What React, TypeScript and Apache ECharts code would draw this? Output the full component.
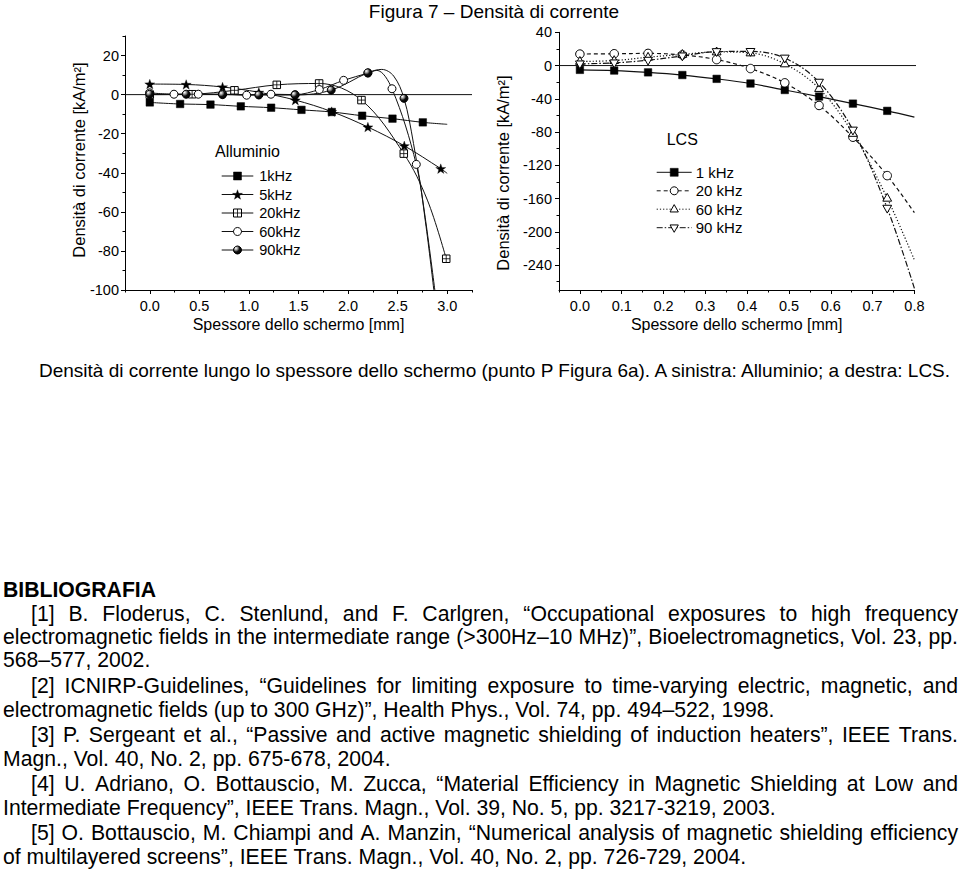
import React, { useEffect, useRef } from 'react';
import * as echarts from 'echarts';

const FONT = '"Liberation Sans", Arial, Helvetica, sans-serif';

// ---------- Left chart: Alluminio ----------
const alXTicks = [0, 0.5, 1, 1.5, 2, 2.5, 3];
const alXMinorTicks = [-0.25, 0.25, 0.75, 1.25, 1.75, 2.25, 2.75, 3.25];
const alYTicks = [-100, -80, -60, -40, -20, 0, 20];
const alYMinorTicks = [-90, -70, -50, -30, -10, 10, 30];

const al1kHz = [[0, -4.0], [0.306, -4.8], [0.612, -5.1], [0.918, -6.0], [1.224, -6.7], [1.53, -7.8], [1.836, -8.9], [2.142, -10.8], [2.448, -12.3], [2.754, -14.2]];
const al1kHzCurveExtra = [[3.0, -15.2]];
const al5kHz = [[0, 5.4], [0.367, 5.2], [0.734, 3.9], [1.1, 1.2], [1.468, -2.8], [1.835, -8.7], [2.2, -16.6], [2.567, -26.2], [2.935, -37.9]];
const al5kHzCurveExtra = [[3.0, -40.3]];
const al20kHz = [[0, 0], [0.427, 0.2], [0.854, 2.2], [1.281, 5.0], [1.708, 5.7], [2.135, -2.8], [2.562, -30.2], [2.99, -84]];
const al20kHzCurveExtra = [[2.8, -54]];
const al60kHz = [[0, 0.9], [0.244, 0.2], [0.489, 0.2], [0.733, 0.3], [0.977, -0.3], [1.222, 0.2], [1.466, 0], [1.71, 2.6], [1.955, 7.3], [2.2, 11], [2.443, 3], [2.688, -35.7]];
const al60kHzCurveExtra = [[2.29, 12.4], [2.78, -65], [2.865, -100]];
const al90kHz = [[0, 0.2], [0.367, 0.2], [0.734, 0], [1.1, -0.2], [1.465, -0.2], [1.83, 2.3], [2.2, 11.2], [2.564, -1.9]];
const al90kHzCurveExtra = [[2.34, 12.9], [2.46, 9.5], [2.66, -25], [2.77, -60], [2.875, -100]];
const alZeroLine = [[-0.25, 0], [3.25, 0]];

// ---------- Right chart: LCS ----------
const lcsXTicks = [0, 0.1, 0.2, 0.3, 0.4, 0.5, 0.6, 0.7, 0.8];
const lcsXMinorTicks = [-0.05, 0.05, 0.15, 0.25, 0.35, 0.45, 0.55, 0.65, 0.75];
const lcsYTicks = [-240, -200, -160, -120, -80, -40, 0, 40];
const lcsYMinorTicks = [-260, -220, -180, -140, -100, -60, -20, 20];

const lcs1kHz = [[0, -5.2], [0.082, -6], [0.163, -8.2], [0.245, -11.4], [0.327, -16], [0.408, -21.6], [0.49, -29.4], [0.572, -37.3], [0.653, -45.8], [0.735, -54.5]];
const lcs1kHzCurveExtra = [[0.8, -62]];
const lcs20kHz = [[0, 13.8], [0.082, 14.2], [0.163, 14.6], [0.245, 12.8], [0.327, 7.2], [0.408, -3.6], [0.49, -20.8], [0.572, -48], [0.653, -86.2], [0.735, -132.4]];
const lcs20kHzCurveExtra = [[0.8, -177]];
const lcs60kHz = [[0, 5], [0.082, 6], [0.163, 10], [0.245, 13.4], [0.327, 16.4], [0.408, 15.2], [0.49, 2], [0.572, -27.6], [0.653, -81.6], [0.735, -159.6]];
const lcs60kHzCurveExtra = [[0.8, -234]];
const lcs90kHz = [[0, 2], [0.082, 3.2], [0.163, 6.4], [0.245, 11.6], [0.327, 16.8], [0.408, 17], [0.49, 9], [0.572, -20], [0.653, -77.6], [0.735, -171.6]];
const lcs90kHzCurveExtra = [[0.8, -268]];
const lcsZeroLine = [[-0.05, 0], [0.915, 0]];

// ---------- Texts ----------
const titleText = 'Figura 7 – Densità di corrente';
const captionText = 'Densità di corrente lungo lo spessore dello schermo (punto P Figura 6a). A sinistra: Alluminio; a destra: LCS.';
const yName = 'Densità di corrente [kA/m²]';
const xName = 'Spessore dello schermo [mm]';
const alLegendTitle = 'Alluminio';
const alLegendLabels = ['1kHz', '5kHz', '20kHz', '60kHz', '90kHz'];
const lcsLegendTitle = 'LCS';
const lcsLegendLabels = ['1 kHz', '20 kHz', '60 kHz', '90 kHz'];
const bibLines = [
  'BIBLIOGRAFIA',
  '[1] B. Floderus, C. Stenlund, and F. Carlgren, “Occupational exposures to high frequency',
  'electromagnetic fields in the intermediate range (>300Hz–10 MHz)”, Bioelectromagnetics, Vol. 23, pp.',
  '568–577, 2002.',
  '[2] ICNIRP-Guidelines, “Guidelines for limiting exposure to time-varying electric, magnetic, and',
  'electromagnetic fields (up to 300 GHz)”, Health Phys., Vol. 74, pp. 494–522, 1998.',
  '[3] P. Sergeant et al., “Passive and active magnetic shielding of induction heaters”, IEEE Trans.',
  'Magn., Vol. 40, No. 2, pp. 675-678, 2004.',
  '[4] U. Adriano, O. Bottauscio, M. Zucca, “Material Efficiency in Magnetic Shielding at Low and',
  'Intermediate Frequency”, IEEE Trans. Magn., Vol. 39, No. 5, pp. 3217-3219, 2003.',
  '[5] O. Bottauscio, M. Chiampi and A. Manzin, “Numerical analysis of magnetic shielding efficiency',
  'of multilayered screens”, IEEE Trans. Magn., Vol. 40, No. 2, pp. 726-729, 2004.',
];
// layout for bibliography lines (y centre, indent, justified, bold)
const bibLayout = [
  { y: 589, indent: 3, justify: false, bold: true },
  { y: 613, indent: 31, justify: true },
  { y: 636.5, indent: 3, justify: true },
  { y: 659, indent: 3, justify: false },
  { y: 685, indent: 31, justify: true },
  { y: 709.5, indent: 3, justify: false },
  { y: 734, indent: 31, justify: true },
  { y: 758.5, indent: 3, justify: false },
  { y: 783, indent: 31, justify: true },
  { y: 807.5, indent: 3, justify: false },
  { y: 832, indent: 31, justify: true },
  { y: 856.5, indent: 3, justify: false },
];

const merge = (a: number[][], b: number[][]) => [...a, ...b].sort((p, q) => p[0] - q[0]);

function markerShapes(kind: string, cx: number, cy: number, s: number): any[] {
  const r = s / 2;
  const stroke = '#000';
  switch (kind) {
    case 'square':
      return [{ type: 'rect', shape: { x: cx - r, y: cy - r, width: s, height: s }, style: { fill: '#000', stroke: '#000', lineWidth: 0.5 } }];
    case 'star': {
      const pts: number[][] = [];
      for (let i = 0; i < 10; i++) {
        const ang = -Math.PI / 2 + (i * Math.PI) / 5;
        const rad = i % 2 === 0 ? r * 1.25 : r * 0.5;
        pts.push([cx + rad * Math.cos(ang), cy + 0.5 + rad * Math.sin(ang)]);
      }
      return [{ type: 'polygon', shape: { points: pts }, style: { fill: '#000', stroke: '#000', lineWidth: 0.3 } }];
    }
    case 'boxplus':
      return [
        { type: 'rect', shape: { x: cx - r, y: cy - r, width: s, height: s }, style: { fill: '#fff', stroke, lineWidth: 1 } },
        { type: 'line', shape: { x1: cx - r, y1: cy, x2: cx + r, y2: cy }, style: { stroke, lineWidth: 0.8 } },
        { type: 'line', shape: { x1: cx, y1: cy - r, x2: cx, y2: cy + r }, style: { stroke, lineWidth: 0.8 } },
      ];
    case 'circle':
      return [{ type: 'circle', shape: { cx, cy, r }, style: { fill: '#fff', stroke, lineWidth: 1 } }];
    case 'sphere':
      return [
        {
          type: 'circle',
          shape: { cx, cy, r },
          style: {
            fill: new echarts.graphic.RadialGradient(0.3, 0.28, 0.75, [
              { offset: 0, color: '#ffffff' },
              { offset: 0.3, color: '#999' },
              { offset: 0.6, color: '#111' },
              { offset: 1, color: '#000' },
            ]),
            stroke,
            lineWidth: 1,
          },
        },
      ];
    case 'triUp': {
      const R = r * 1.15;
      return [{ type: 'polygon', shape: { points: [[cx, cy - R], [cx + R * 0.9, cy + R * 0.6], [cx - R * 0.9, cy + R * 0.6]] }, style: { fill: '#fff', stroke, lineWidth: 1 } }];
    }
    case 'triDown': {
      const R = r * 1.15;
      return [{ type: 'polygon', shape: { points: [[cx, cy + R], [cx + R * 0.9, cy - R * 0.6], [cx - R * 0.9, cy - R * 0.6]] }, style: { fill: '#fff', stroke, lineWidth: 1 } }];
    }
  }
  return [];
}

function markerSeries(data: number[][], kind: string, size: number, axis: number) {
  return {
    type: 'custom',
    xAxisIndex: axis,
    yAxisIndex: axis,
    silent: true,
    z: 5,
    data,
    renderItem: (_p: any, api: any) => {
      const pt = api.coord([api.value(0), api.value(1)]);
      return { type: 'group', children: markerShapes(kind, pt[0], pt[1], size) };
    },
  };
}

function curveSeries(data: number[][], axis: number, dash: any, width = 1, smooth: number = 0.35) {
  return {
    type: 'line',
    xAxisIndex: axis,
    yAxisIndex: axis,
    data,
    smooth,
    symbol: 'none',
    silent: true,
    z: 2,
    lineStyle: { color: '#111', width, type: dash },
  };
}

function mainX(gridIndex: number, min: number, max: number, ticks: number[], nameGap: number) {
  return {
    type: 'value', gridIndex, min, max, position: 'bottom',
    axisLine: { show: true, onZero: false, lineStyle: { color: '#000', width: 1 } },
    axisTick: { show: true, length: 4, customValues: ticks, lineStyle: { color: '#000', width: 1 } },
    axisLabel: { customValues: ticks, formatter: (v: number) => v.toFixed(1), margin: 8, fontSize: 14.5, color: '#000', fontFamily: FONT },
    splitLine: { show: false },
    name: xName, nameLocation: 'middle', nameGap,
    nameTextStyle: { fontSize: 16, color: '#000', fontFamily: FONT },
  };
}
function minorX(gridIndex: number, min: number, max: number, ticks: number[]) {
  return {
    type: 'value', gridIndex, min, max, position: 'bottom',
    axisLine: { show: false, onZero: false },
    axisTick: { show: true, length: 2.5, customValues: ticks, lineStyle: { color: '#000', width: 1 } },
    axisLabel: { show: false }, splitLine: { show: false },
  };
}
function mainY(gridIndex: number, min: number, max: number, ticks: number[], margin: number) {
  return {
    type: 'value', gridIndex, min, max, position: 'left',
    axisLine: { show: true, onZero: false, lineStyle: { color: '#000', width: 1 } },
    axisTick: { show: true, length: 4, customValues: ticks, lineStyle: { color: '#000', width: 1 } },
    axisLabel: { customValues: ticks, margin, fontSize: 14.5, color: '#000', fontFamily: FONT },
    splitLine: { show: false },
  };
}
function minorY(gridIndex: number, min: number, max: number, ticks: number[]) {
  return {
    type: 'value', gridIndex, min, max, position: 'left',
    axisLine: { show: false, onZero: false },
    axisTick: { show: true, length: 2.5, customValues: ticks, lineStyle: { color: '#000', width: 1 } },
    axisLabel: { show: false }, splitLine: { show: false },
  };
}

function textEl(text: string, x: number, y: number, size: number, align = 'left', bold = false, rotation = 0) {
  return {
    type: 'text', x, y, rotation, silent: true,
    style: {
      text, fill: '#000', fontSize: size, fontFamily: FONT, fontWeight: bold ? 'bold' : 'normal',
      textAlign: align, textVerticalAlign: 'middle', verticalAlign: 'middle',
    },
  };
}

function legendRow(kind: string, dash: any, x1: number, x2: number, y: number, tx: number, label: string, size: number, fs: number) {
  const cx = (x1 + x2) / 2;
  return [
    { type: 'line', silent: true, shape: { x1, y1: y, x2, y2: y }, style: { stroke: '#111', lineWidth: 1, lineDash: dash } },
    ...markerShapes(kind, cx, y, size).map((e) => ({ ...e, silent: true })),
    textEl(label, tx, y, fs),
  ];
}

export default function App() {
  const ref = useRef<HTMLDivElement>(null);
  useEffect(() => {
    if (!ref.current) return;
    const chart = echarts.init(ref.current, undefined, { renderer: 'svg' });

    const canvas = document.createElement('canvas');
    const ctx = canvas.getContext('2d') as CanvasRenderingContext2D;
    const BODY = 21.2;
    const measure = (t: string, bold: boolean) => {
      ctx.font = `${bold ? 'bold ' : ''}${BODY}px "Liberation Sans"`;
      return ctx.measureText(t).width;
    };

    const graphics: any[] = [];
    graphics.push(textEl(titleText, 494, 11, 19, 'center'));
    graphics.push(textEl(captionText, 39, 370.5, 19));
    // y-axis titles (rotated, reading bottom to top)
    graphics.push(textEl(yName, 79, 160, 16.5, 'center', false, Math.PI / 2));
    graphics.push(textEl(yName, 503, 173, 16.5, 'center', false, Math.PI / 2));

    bibLines.forEach((line, i) => {
      const lay: any = bibLayout[i];
      if (!lay.justify) {
        graphics.push(textEl(line, lay.indent, lay.y, BODY, 'left', !!lay.bold));
      } else {
        const words = line.split(' ');
        const widths = words.map((w) => measure(w, false));
        const total = widths.reduce((a, b) => a + b, 0);
        const gap = (958 - lay.indent - total) / (words.length - 1);
        let x = lay.indent;
        words.forEach((w, k) => {
          graphics.push(textEl(w, x, lay.y, BODY));
          x += widths[k] + gap;
        });
      }
    });

    // Left legend
    graphics.push(textEl(alLegendTitle, 215, 151.7, 16));
    const alKinds = ['square', 'star', 'boxplus', 'circle', 'sphere'];
    const alRows = [176, 194.5, 213, 231.5, 250];
    alKinds.forEach((k, i) => {
      graphics.push(...legendRow(k, null, 221.7, 253.3, alRows[i], 259.3, alLegendLabels[i], k === 'star' ? 8.5 : 8, 14.5));
    });
    // Right legend
    graphics.push(textEl(lcsLegendTitle, 666.7, 139.3, 16));
    const lcsKinds = ['square', 'circle', 'triUp', 'triDown'];
    const lcsDash = [null, [4, 3], [1.2, 2], [6, 2, 1.5, 2]];
    const lcsRows = [172.3, 190.8, 209.2, 227.7];
    lcsKinds.forEach((k, i) => {
      graphics.push(...legendRow(k, lcsDash[i], 656.7, 691.7, lcsRows[i], 695.7, lcsLegendLabels[i], 8, 15));
    });

    const option: any = {
      animation: false,
      backgroundColor: '#fff',
      grid: [
        { left: 125, top: 36, width: 347, height: 254 },
        { left: 559, top: 32.3, width: 355.4, height: 257.7 },
      ],
      xAxis: [
        mainX(0, -0.25, 3.25, alXTicks, 26),
        minorX(0, -0.25, 3.25, alXMinorTicks),
        mainX(1, -0.05, 0.8, lcsXTicks, 26),
        minorX(1, -0.05, 0.8, lcsXMinorTicks),
      ],
      yAxis: [
        mainY(0, -100, 30, alYTicks, 6),
        minorY(0, -100, 30, alYMinorTicks),
        mainY(1, -270, 40, lcsYTicks, 7),
        minorY(1, -270, 40, lcsYMinorTicks),
      ],
      series: [
        { ...curveSeries(alZeroLine, 0, 'solid', 1, 0), clip: false },
        curveSeries(merge(al1kHz, al1kHzCurveExtra), 0, 'solid'),
        curveSeries(merge(al5kHz, al5kHzCurveExtra), 0, 'solid'),
        curveSeries(merge(al20kHz, al20kHzCurveExtra), 0, 'solid'),
        curveSeries(merge(al60kHz, al60kHzCurveExtra), 0, 'solid'),
        curveSeries(merge(al90kHz, al90kHzCurveExtra), 0, 'solid'),
        markerSeries(al1kHz, 'square', 7.5, 0),
        markerSeries(al5kHz, 'star', 8.5, 0),
        markerSeries(al20kHz, 'boxplus', 7.5, 0),
        markerSeries(al60kHz, 'circle', 8, 0),
        markerSeries(al90kHz, 'sphere', 8, 0),

        { ...curveSeries(lcsZeroLine, 2, 'solid', 1, 0), clip: false },
        curveSeries(merge(lcs1kHz, lcs1kHzCurveExtra), 2, 'solid', 1.2),
        curveSeries(merge(lcs20kHz, lcs20kHzCurveExtra), 2, [4, 3], 1.2),
        curveSeries(merge(lcs60kHz, lcs60kHzCurveExtra), 2, [1.2, 2], 1.2),
        curveSeries(merge(lcs90kHz, lcs90kHzCurveExtra), 2, [6, 2, 1.5, 2], 1.2),
        markerSeries(lcs1kHz, 'square', 7.5, 2),
        markerSeries(lcs20kHz, 'circle', 8.5, 2),
        markerSeries(lcs60kHz, 'triUp', 8.5, 2),
        markerSeries(lcs90kHz, 'triDown', 8.5, 2),
      ],
      graphic: graphics,
    };
    chart.setOption(option);
    return () => chart.dispose();
  }, []);

  return <div ref={ref} style={{ position: 'absolute', left: 0, top: 0, width: 960, height: 871, background: '#fff' }} />;
}
